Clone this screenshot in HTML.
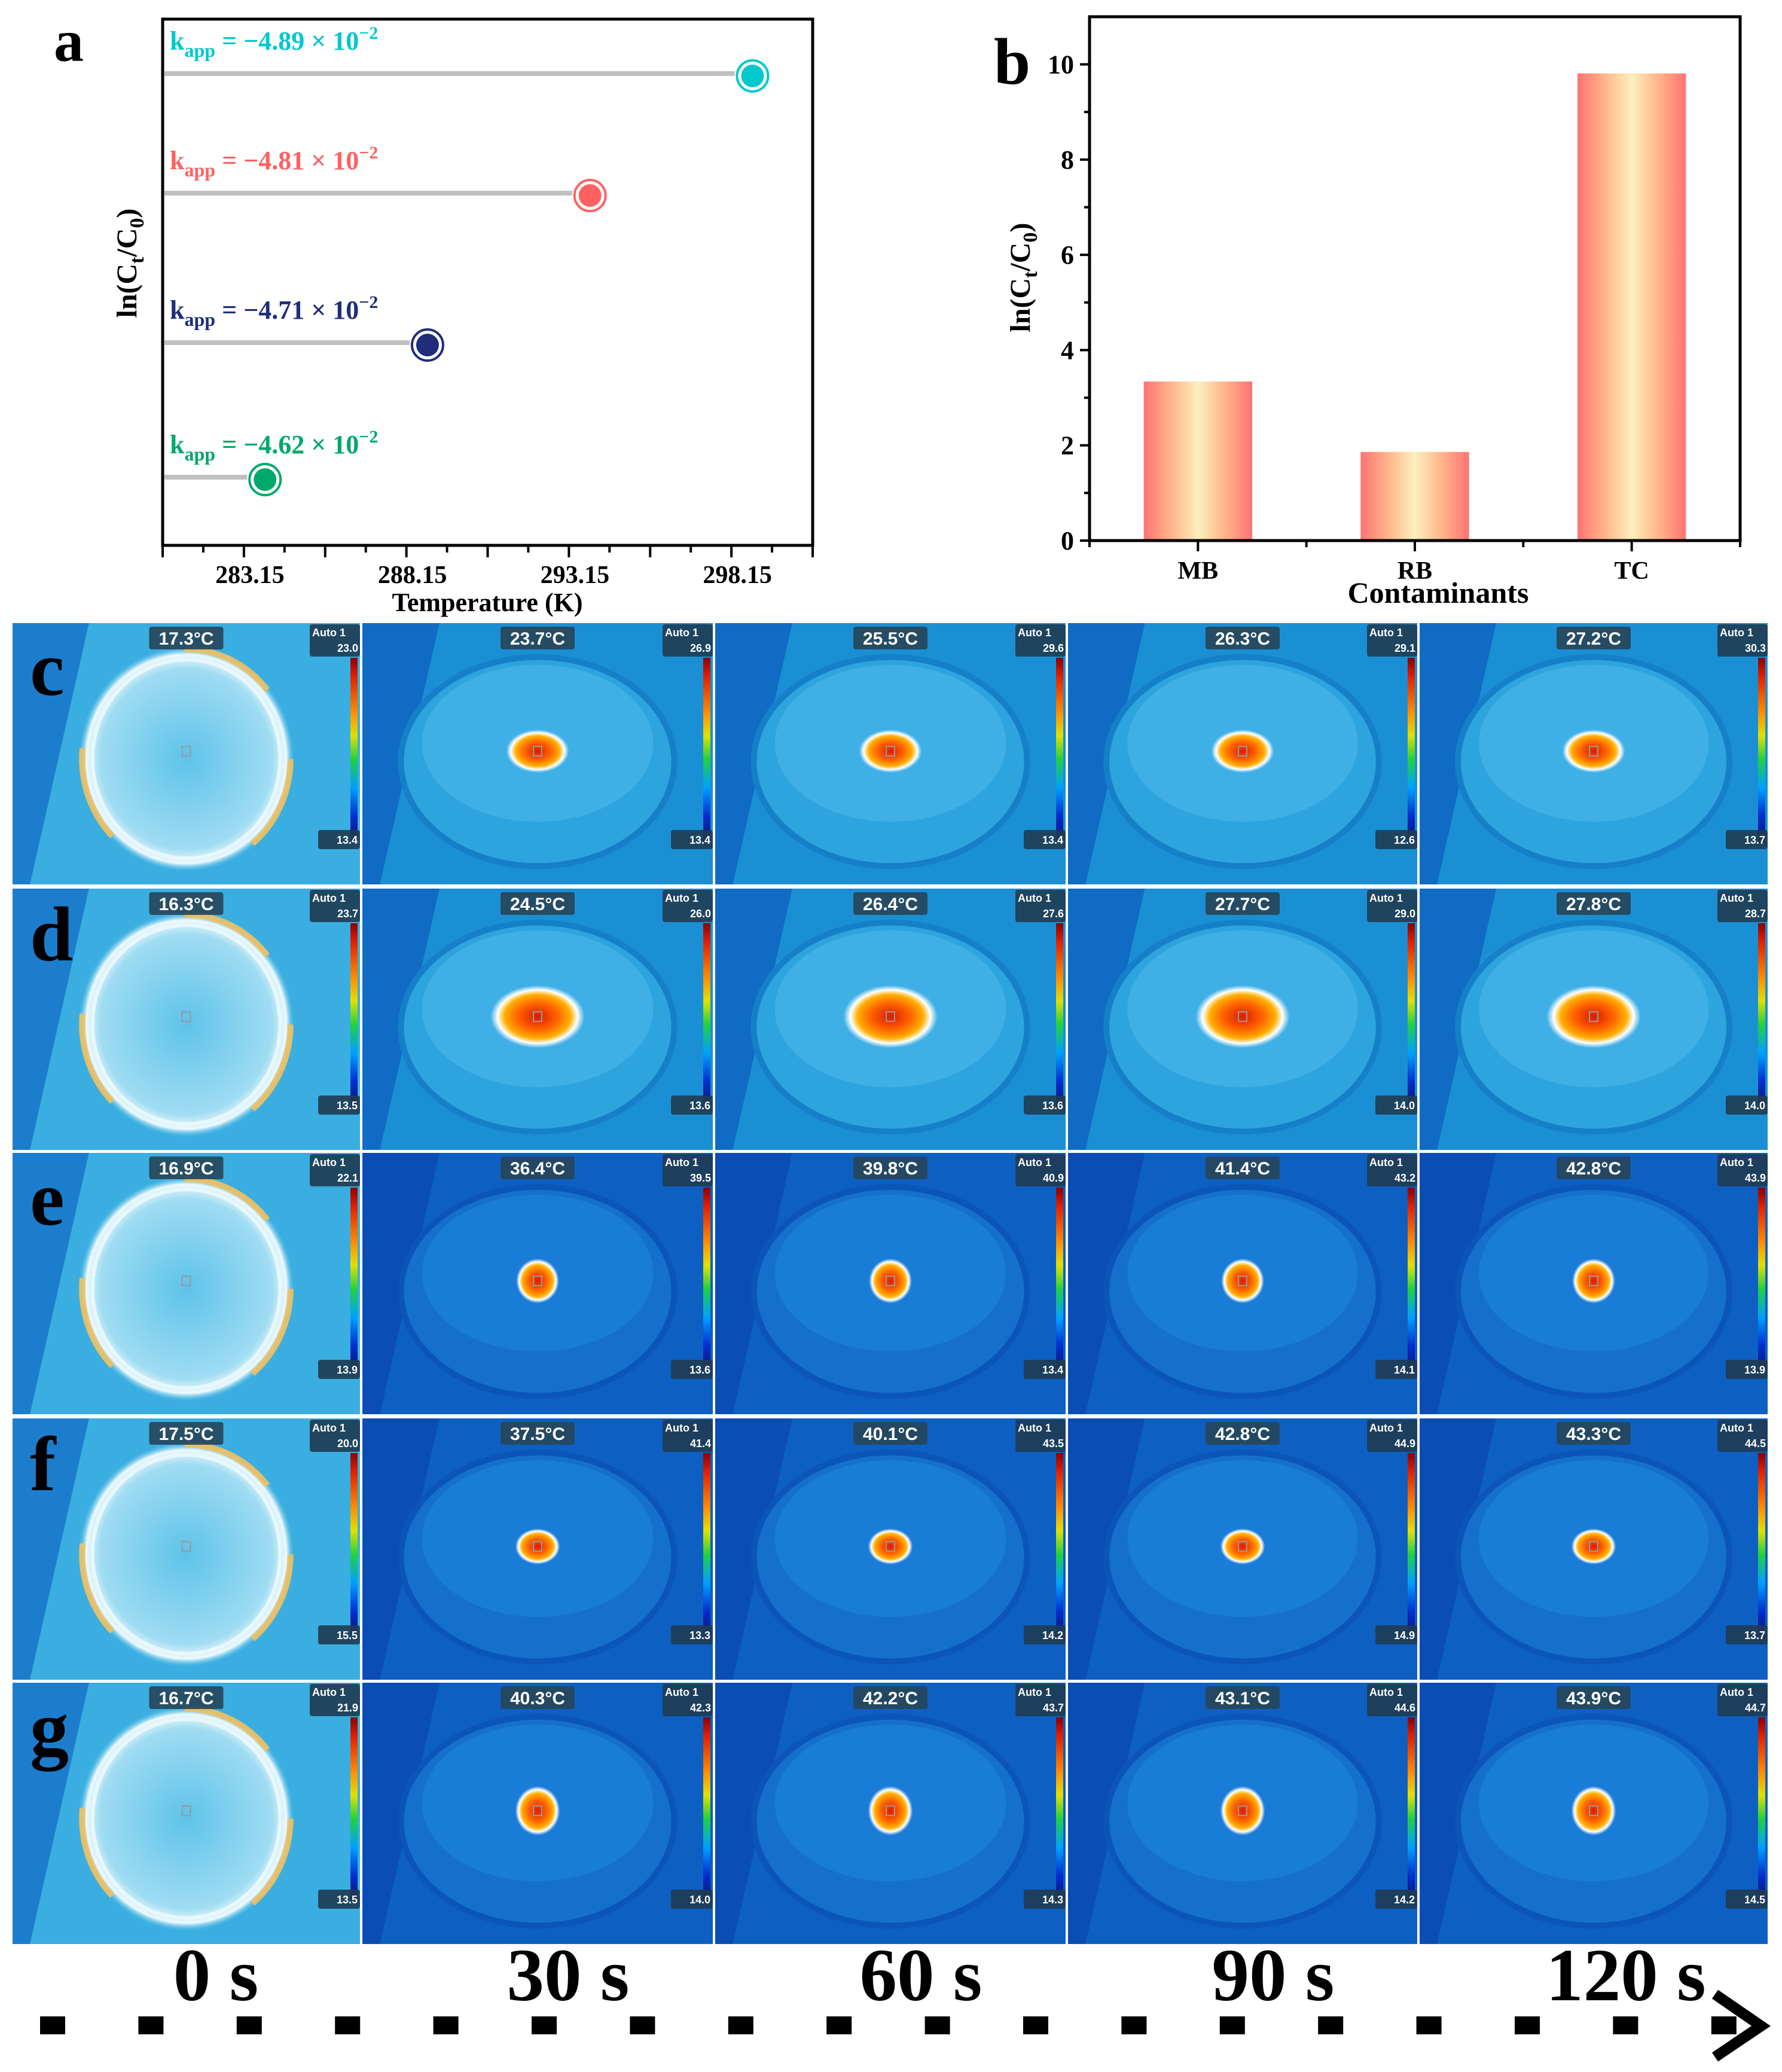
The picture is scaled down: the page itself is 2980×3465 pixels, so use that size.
<!DOCTYPE html>
<html><head><meta charset="utf-8">
<style>
html,body{margin:0;padding:0;background:#fff;}
svg{display:block;}
text{font-family:"Liberation Serif",serif;font-weight:bold;}
.sans{font-family:"Liberation Sans",sans-serif;}
</style></head>
<body>
<svg id="fig" width="2980" height="3465" viewBox="0 0 2980 3465" xmlns="http://www.w3.org/2000/svg">
<defs>
<linearGradient id="barGrad" x1="0" x2="1" y1="0" y2="0">
<stop offset="0" stop-color="#ff7373"/><stop offset="0.25" stop-color="#ffb48a"/><stop offset="0.5" stop-color="#fcf0bd"/><stop offset="0.75" stop-color="#ffb48a"/><stop offset="1" stop-color="#ff7373"/>
</linearGradient>
<linearGradient id="cbar" x1="0" x2="0" y1="0" y2="1">
<stop offset="0" stop-color="#8a0000"/><stop offset="0.1" stop-color="#e02000"/><stop offset="0.3" stop-color="#ff9000"/><stop offset="0.42" stop-color="#e0e000"/><stop offset="0.55" stop-color="#20d040"/><stop offset="0.7" stop-color="#00a0ff"/><stop offset="0.85" stop-color="#0030d0"/><stop offset="1" stop-color="#10106a"/>
</linearGradient>
<radialGradient id="hot" cx="0.5" cy="0.5" r="0.5">
<stop offset="0" stop-color="#e01800"/><stop offset="0.45" stop-color="#ff6a00"/><stop offset="0.7" stop-color="#ffb000"/><stop offset="0.85" stop-color="#ffffff"/><stop offset="1" stop-color="#ffffff" stop-opacity="0"/>
</radialGradient>
<radialGradient id="dishLight" cx="0.5" cy="0.5" r="0.5">
<stop offset="0" stop-color="#5ec3ea"/><stop offset="0.8" stop-color="#9fdcf2"/><stop offset="0.93" stop-color="#eef9fd"/><stop offset="1" stop-color="#5ec3ea" stop-opacity="0"/>
</radialGradient>
</defs>
<g id="panelA"></g>
<g id="panelB"></g>
<g id="thermal"></g>
<g id="timeline"></g>
</svg>
<script>
// ---------- Panel a data ----------
const aTemps = [283.8, 288.8, 293.8, 298.8];
const aValues = [4.62, 4.71, 4.81, 4.89];
const aLabels = ["4.62", "4.71", "4.81", "4.89"];
const aColors = ["#00a86b", "#1f2d7a", "#ff6161", "#00c8cc"];
const aTickLabels = ["283.15", "288.15", "293.15", "298.15"];
const aTickValues = [283.15, 288.15, 293.15, 298.15];
// ---------- Panel b data ----------
const bCats = ["MB", "RB", "TC"];
const bValues = [3.34, 1.86, 9.81];
const bTicks = [0, 2, 4, 6, 8, 10];
// ---------- Thermal data ----------
const rowLetters = ["c", "d", "e", "f", "g"];
const spotTemps = [["17.3","23.7","25.5","26.3","27.2"],["16.3","24.5","26.4","27.7","27.8"],["16.9","36.4","39.8","41.4","42.8"],["17.5","37.5","40.1","42.8","43.3"],["16.7","40.3","42.2","43.1","43.9"]];
const maxTemps = [["23.0","26.9","29.6","29.1","30.3"],["23.7","26.0","27.6","29.0","28.7"],["22.1","39.5","40.9","43.2","43.9"],["20.0","41.4","43.5","44.9","44.5"],["21.9","42.3","43.7","44.6","44.7"]];
const minTemps = [["13.4","13.4","13.4","12.6","13.7"],["13.5","13.6","13.6","14.0","14.0"],["13.9","13.6","13.4","14.1","13.9"],["15.5","13.3","14.2","14.9","13.7"],["13.5","14.0","14.3","14.2","14.5"]];
const timeLabels = ["0 s", "30 s", "60 s", "90 s", "120 s"];

const NS = "http://www.w3.org/2000/svg";
function mk(parent, tag, attrs, txt){
  const e = document.createElementNS(NS, tag);
  for (const k in attrs) e.setAttribute(k, attrs[k]);
  if (txt !== undefined) e.textContent = txt;
  parent.appendChild(e);
  return e;
}

// ===== Panel A =====
(function(){
  const g = document.getElementById("panelA");
  const L=272, R=1359, T=32, B=912;
  const xMin=280.65, xMax=300.65, yMin=4.576, yMax=4.928;
  const xs = v => L + (v-xMin)/(xMax-xMin)*(R-L);
  const ys = v => B - (v-yMin)/(yMax-yMin)*(B-T);
  let t = mk(g,"text",{x:90,y:102,"font-size":100});
  t.textContent="a";
  
  
  const frame = mk(g,"rect",{x:L,y:T,width:R-L,height:B-T,fill:"none",stroke:"#000","stroke-width":5});
  
  
  for (let v=xMin; v<=xMax+0.01; v+=1.25){
    const major = Math.abs(((v-xMin)/2.5)%1) < 0.01 || Math.abs(((v-xMin)/2.5)%1-1)<0.01;
    const tk = mk(g,"line",{x1:xs(v),x2:xs(v),y1:B,y2:B+(major?20:12),stroke:"#000","stroke-width":4});
    
    
  }
  aTickValues.forEach((v,i)=>{
    const tl = mk(g,"text",{x:xs(v)+10,y:975,"font-size":42,"text-anchor":"middle"},aTickLabels[i]);
    
    
  });
  const xt = mk(g,"text",{x:815,y:1022,"font-size":44,"text-anchor":"middle"},"Temperature (K)");
  
  
  const yt = mk(g,"text",{x:0,y:0,"font-size":48,"text-anchor":"middle",transform:"translate(228,440) rotate(-90)"});
  yt.innerHTML='ln(C<tspan dy="12" font-size="34">t</tspan><tspan dy="-12">/C</tspan><tspan dy="12" font-size="34">0</tspan><tspan dy="-12">)</tspan>';
  
  
  aTemps.forEach((tv,i)=>{
    const cx = xs(tv), cy = ys(aValues[i]), c = aColors[i];
    const ln = mk(g,"line",{x1:L+3,x2:cx-30,y1:cy-4,y2:cy-4,stroke:"#c0c0c0","stroke-width":8});
    
    
    const ring = mk(g,"circle",{cx:cx,cy:cy,r:26,fill:"#fff",stroke:c,"stroke-width":4});
    
    
    const dot = mk(g,"circle",{cx:cx,cy:cy,r:19,fill:c});
    
    
    const lb = mk(g,"text",{x:284,y:cy-44,"font-size":44,fill:c});
    lb.innerHTML='k<tspan dy="12" font-size="32">app</tspan><tspan dy="-12"> = \u2212'+aLabels[i]+' \u00d7 10</tspan><tspan dy="-18" font-size="30">\u22122</tspan>';
    
    
  });
})();

// ===== Panel B =====
(function(){
  const g = document.getElementById("panelB");
  const L=1822, R=2910, T=28, B=904;
  const yMax=11.0;
  const ys = v => B - v/yMax*(B-T);
  const band = (R-L)/bCats.length;
  const xc = i => L + band*(i+0.5);
  const lab = mk(g,"text",{x:1662,y:140,"font-size":110},"b");
  
  
  bCats.forEach((c,i)=>{
    const bw = band*0.5;
    const bar = mk(g,"rect",{x:xc(i)-bw/2,y:ys(bValues[i]),width:bw,height:B-ys(bValues[i]),fill:"url(#barGrad)"});
    
    
    const tl = mk(g,"text",{x:xc(i),y:968,"font-size":42,"text-anchor":"middle"},c);
    
    
  });
  const frame = mk(g,"rect",{x:L,y:T,width:R-L,height:B-T,fill:"none",stroke:"#000","stroke-width":5});
  
  
  for (let v=0; v<=10; v+=1){
    const tk = mk(g,"line",{x1:L-(v%2===0?16:9),x2:L,y1:ys(v),y2:ys(v),stroke:"#000","stroke-width":4});
    
    
  }
  bTicks.forEach(v=>{
    const tl = mk(g,"text",{x:1796,y:ys(v)+15,"font-size":44,"text-anchor":"end"},String(v));
    
    
  });
  for (let k=0; k<=bCats.length*2; k++){
    const x = L + band*k/2;
    const tk = mk(g,"line",{x1:x,x2:x,y1:B,y2:B+(k%2===1?18:11),stroke:"#000","stroke-width":4});
    
    
  }
  const xt = mk(g,"text",{x:2405,y:1008,"font-size":50,"text-anchor":"middle"},"Contaminants");
  
  
  const yt = mk(g,"text",{x:0,y:0,"font-size":48,"text-anchor":"middle",transform:"translate(1722,464) rotate(-90)"});
  yt.innerHTML='ln(C<tspan dy="12" font-size="34">t</tspan><tspan dy="-12">/C</tspan><tspan dy="12" font-size="34">0</tspan><tspan dy="-12">)</tspan>';
  
  
})();

// ===== Thermal grid =====
(function(){
  const g = document.getElementById("thermal");
  const colX = [21, 606, 1196, 1786, 2374, 2960];
  const rowY = [1042, 1486, 1928, 2372, 2814];
  const rowH = 437;
  const spotSize = [[70,48],[105,70],[48,50],[50,40],[50,55]];
  rowLetters.forEach((letter,r)=>{
    for (let c=0;c<5;c++){
      const x0=colX[c], w=colX[c+1]-colX[c]-4, y0=rowY[r], h=rowH;
      const cell = mk(g,"g",{transform:`translate(${x0},${y0})`});
      
      
      const first = c===0;
      const bright = r<2;
      const bg = first ? "#3aaee0" : (bright ? "#1b8fd4" : "#0e5fc2");
      mk(cell,"rect",{x:0,y:0,width:w,height:h,fill:bg});
      mk(cell,"polygon",{points:`0,0 ${w*0.22},0 ${w*0.05},${h} 0,${h}`,fill:first?"#1670c8":(bright?"#0d62bf":"#0a48b0"),opacity:0.8});
      if (first){
        mk(cell,"ellipse",{cx:w*0.5,cy:h*0.52,rx:w*0.31,ry:h*0.43,fill:"url(#dishLight)"});
        mk(cell,"ellipse",{cx:w*0.5,cy:h*0.52,rx:w*0.3,ry:h*0.42,fill:"none",stroke:"#f2c060","stroke-width":10,"stroke-dasharray":"160 260",opacity:0.9});
        mk(cell,"ellipse",{cx:w*0.5,cy:h*0.52,rx:w*0.27,ry:h*0.38,fill:"none",stroke:"#e8f8fd","stroke-width":6});
      } else {
        mk(cell,"ellipse",{cx:w*0.5,cy:h*0.53,rx:w*0.39,ry:h*0.4,fill:bright?"#2ea4de":"#1470cc",stroke:bright?"#1580c8":"#0b55b8","stroke-width":10});
        mk(cell,"ellipse",{cx:w*0.5,cy:h*0.46,rx:w*0.33,ry:h*0.3,fill:bright?"#44b3e6":"#1a7fd8",opacity:0.8});
        const ss = spotSize[r];
        mk(cell,"ellipse",{cx:w*0.5,cy:h*0.49,rx:ss[0]*0.75,ry:ss[1]*0.75,fill:"url(#hot)"});
      }
      mk(cell,"rect",{x:w*0.5-7,y:h*0.49-8,width:14,height:16,fill:"none",stroke:"#999","stroke-width":2});
      const tb = mk(cell,"rect",{x:w*0.5-62,y:6,width:124,height:38,rx:4,fill:"#27475a",opacity:0.92});
      
      
      const tt = mk(cell,"text",{x:w*0.5,y:36,"font-size":30,fill:"#fff","text-anchor":"middle",class:"sans"},spotTemps[r][c]+"\u00b0C");
      
      
      mk(cell,"rect",{x:w-84,y:2,width:84,height:54,rx:4,fill:"#1f3c52",opacity:0.9});
      const at = mk(cell,"text",{x:w-80,y:22,"font-size":18,fill:"#fff",class:"sans","font-weight":"normal"},"Auto 1");
      
      
      const mx = mk(cell,"text",{x:w-3,y:48,"font-size":18,fill:"#fff","text-anchor":"end",class:"sans"},maxTemps[r][c]);
      
      
      const cb = mk(cell,"rect",{x:w-16,y:58,width:12,height:310,fill:"url(#cbar)"});
      
      
      mk(cell,"rect",{x:w-70,y:346,width:70,height:32,rx:4,fill:"#1f3c52",opacity:0.9});
      const mn = mk(cell,"text",{x:w-4,y:369,"font-size":18,fill:"#fff","text-anchor":"end",class:"sans"},minTemps[r][c]);
      
      
    }
    const rl = mk(g,"text",{x:50,y:rowY[r]+120,"font-size":130},letter);
    
    
  });
})();

// ===== Timeline =====
(function(){
  const g = document.getElementById("timeline");
  const centers = [361, 950, 1540, 2129, 2719];
  timeLabels.forEach((s,i)=>{
    const t = mk(g,"text",{x:centers[i],y:3345,"font-size":125,"text-anchor":"middle"},s);
    
    
  });
  for (let i=0;i<18;i++){
    const d = mk(g,"rect",{x:67+i*164.4,y:3372,width:42,height:30,fill:"#000"});
    
    
  }
  const ar = mk(g,"polyline",{points:"2868,3335 2945,3388 2868,3440",fill:"none",stroke:"#000","stroke-width":18});
  
  
})();
</script>
</body></html>
